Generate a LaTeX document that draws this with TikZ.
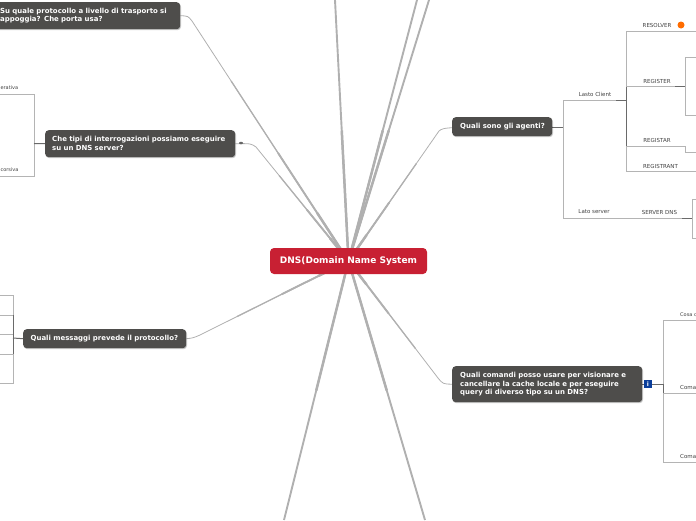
\documentclass[tikz,border=0pt]{standalone}
\usepackage{fontspec}
\setmainfont{DejaVu Sans}
\usetikzlibrary{shadows,calc,backgrounds,shapes.geometric}
\definecolor{qfill}{HTML}{4E4D4B}
\definecolor{crimson}{HTML}{C82033}
\definecolor{spoke}{HTML}{B0B0B0}
\definecolor{tree}{HTML}{B4B4B4}
\definecolor{treedark}{HTML}{6A6A6A}
\definecolor{iconblue}{HTML}{0B3E9A}
\tikzset{
  qbox/.style={draw=none,fill=qfill,rounded corners=3.5pt,anchor=north west,inner ysep=0pt,
    font=\fontsize{6.95}{8.8}\selectfont\bfseries,text=white,align=left,
    drop shadow={shadow xshift=0.8pt,shadow yshift=-1pt,fill=black,opacity=0.22}},
  rootbox/.style={fill=crimson,rounded corners=4pt,inner sep=0pt,text=white,
    minimum width=157pt,minimum height=26pt,font=\fontsize{9}{10}\selectfont\bfseries},
  lab/.style={font=\fontsize{5.5}{6}\selectfont,text=black!75,inner sep=0pt},
  edgelab/.style={font=\fontsize{5}{6}\selectfont,text=black!75,inner sep=0pt},
  wide/.style={spoke,line width=2.5pt},
  mid/.style={spoke,line width=1.9pt},
  slim/.style={spoke,line width=1.3pt},
  fine/.style={spoke,line width=0.8pt},
  tr/.style={tree,line width=1pt},
  trd/.style={treedark,line width=1pt},
}
\newcommand{\spokeTo}[3]{%
  \draw[fine] (root.center) -- (#1) #2 (#3);
  \draw[slim] (root.center) -- ($(root.center)!0.75!(#1)$);
  \draw[mid] (root.center) -- ($(root.center)!0.45!(#1)$);
  \draw[wide] (root.center) -- ($(root.center)!0.2!(#1)$);
}
\newcommand{\spokeOut}[1]{%
  \draw[mid] (root.center) -- (#1);
  \draw[wide] (root.center) -- ($(root.center)!0.5!(#1)$);
}
\begin{document}
\begin{tikzpicture}[x=1pt,y=-1pt]
\useasboundingbox (0,0) rectangle (696,520);
\coordinate (t1) at (335,0);
\coordinate (t2) at (417,0);
\coordinate (t3) at (429,0);
\coordinate (b1) at (284,520);
\coordinate (b2) at (425,520);
\coordinate (k1) at (192,21);
\coordinate (k2) at (256,147);
\coordinate (k3) at (200,335);
\coordinate (k4) at (439,131);
\coordinate (k5) at (438,378);
\coordinate (dj) at (563,127);
\coordinate (lc0) at (563,100);
\coordinate (lc1) at (616,100);
\coordinate (lcj) at (626,100);
\coordinate (ls0) at (563,218);
\coordinate (ls1) at (682,218);
\coordinate (lsj) at (692,218);
\coordinate (r0) at (626,31);
\coordinate (r1) at (696,31);
\coordinate (rg0) at (626,86);
\coordinate (rg1) at (675,86);
\coordinate (rgj) at (685,86);
\coordinate (ra0) at (626,146);
\coordinate (ra1) at (685,146);
\coordinate (ra2) at (685,152);
\coordinate (ra3) at (696,152);
\coordinate (rn0) at (626,171);
\coordinate (rn1) at (696,171);
\coordinate (rgt) at (685,57);
\coordinate (rgb) at (685,115);
\coordinate (rgte) at (696,57);
\coordinate (rgbe) at (696,115);
\coordinate (lst) at (692,199);
\coordinate (lsb) at (692,238);
\coordinate (lste) at (696,199);
\coordinate (lsbe) at (696,238);
\coordinate (ej) at (663,384);
\coordinate (e1) at (663,320);
\coordinate (e1e) at (696,320);
\coordinate (e2) at (663,393);
\coordinate (e2e) at (696,393);
\coordinate (e3) at (663,462);
\coordinate (e3e) at (696,462);
\coordinate (bj) at (34,143.5);
\coordinate (b1t) at (34,94);
\coordinate (b1e) at (0,94);
\coordinate (b2t) at (34,176);
\coordinate (b2e) at (0,176);
\coordinate (cj) at (13,338);
\coordinate (c1) at (13,295);
\coordinate (c2) at (13,315);
\coordinate (c3) at (13,334);
\coordinate (c4) at (13,354);
\coordinate (c5) at (13,383);
\coordinate (c1e) at (0,295);
\coordinate (c2e) at (0,315);
\coordinate (c3e) at (0,334);
\coordinate (c4e) at (0,354);
\coordinate (c5e) at (0,383);

\node[rootbox,anchor=center] (root) at (348.5,261) {DNS(Domain Name System};
\node[qbox,inner xsep=10pt,text width=170pt,minimum height=27pt] (qa) at (-10,2) {Su quale protocollo a livello di trasporto si\\appoggia? Che porta usa?};
\node[qbox,inner xsep=7pt,text width=176pt,minimum height=27pt] (qb) at (45,130) {Che tipi di interrogazioni possiamo eseguire\\su un DNS server?};
\node[qbox,inner xsep=7.5pt,text width=148pt,minimum height=19pt] (qc) at (23,329) {Quali messaggi prevede il protocollo?};
\node[qbox,inner xsep=8pt,text width=84pt,minimum height=19pt] (qd) at (452,117) {\mbox{Quali sono gli agenti?}};
\node[qbox,inner xsep=8pt,text width=174pt,minimum height=36pt] (qe) at (452,366) {Quali comandi posso usare per visionare e\\cancellare la cache locale e per eseguire\\query di diverso tipo su un DNS?};

\node[lab] (n1) at (595,94) {Lasto Client};
\node[lab] (n2) at (594,212) {Lato server};
\node[lab] (n3) at (657,25) {RESOLVER};
\node[lab] (n4) at (657,81) {REGISTER};
\node[lab] (n5) at (657,140) {REGISTAR};
\node[lab] (n6) at (660.5,166) {REGISTRANT};
\node[lab] (n7) at (659.5,212) {SERVER DNS};
\node[circle,fill=orange!85!red,minimum size=7pt,inner sep=0pt] (dot) at (681,25) {};
\node[fill=iconblue,minimum size=8pt,inner sep=0pt,text=white,font=\fontsize{6}{6}\selectfont\bfseries] (ico) at (648,384) {i};
\node[edgelab,anchor=west] (m1) at (680,315) {Cosa c};
\node[lab,anchor=west] (m2) at (680,387) {Coma};
\node[lab,anchor=west] (m3) at (680,456) {Coma};
\node[edgelab,anchor=west] (l1) at (0.4,88) {erativa};
\node[edgelab,anchor=west] (l2) at (0.4,170) {corsiva};
\node[ellipse,fill=black!60,inner sep=0pt,minimum width=4pt,minimum height=2.5pt] (bi) at (241,143) {};

\begin{scope}[on background layer]
\spokeOut{t1}
\spokeOut{t2}
\spokeOut{t3}
\spokeOut{b1}
\spokeOut{b2}
\spokeTo{k1}{.. controls (188,16) ..}{qa.east}
\spokeTo{k2}{.. controls (251,143.5) ..}{qb.east}
\spokeTo{k3}{.. controls (193,338) ..}{qc.east}
\spokeTo{k4}{.. controls (444,127) ..}{qd.east}
\spokeTo{k5}{.. controls (443,384) ..}{qe.west}
\draw[tr] (lc0) -- (ls0);
\draw[tr] (lc1) -- (lc0);
\draw[tr] (ls0) -- (ls1);
\draw[trd] (qd.east |- dj) -- (dj);
\draw[trd] (lc1) -- (lcj);
\draw[trd] (ls1) -- (lsj);
\draw[tr] (r1) -- (r0) -- (rn0) -- (rn1);
\draw[trd] (lcj |- rg0) -- (lcj |- ra0);
\draw[tr] (rg0) -- (rg1);
\draw[trd] (rg1) -- (rgj);
\draw[tr] (rgte) -- (rgt) -- (rgb) -- (rgbe);
\draw[tr] (ra0) -- (ra1) -- (ra2) -- (ra3);
\draw[tr] (lste) -- (lst) -- (lsb) -- (lsbe);
\draw[tr] (e1e) -- (e1) -- (e3) -- (e3e);
\draw[trd] (qe.east |- ej) -- (ej) -- (e2);
\draw[tr] (e2) -- (e2e);
\draw[tr] (b1e) -- (b1t) -- (b2t) -- (b2e);
\draw[trd] (qb.west) -- (bj);
\draw[tr] (c1e) -- (c1) -- (c5) -- (c5e);
\draw[tr] (c2) -- (c2e);
\draw[tr] (c3) -- (c3e);
\draw[tr] (c4) -- (c4e);
\draw[trd] (c2) -- (c4);
\draw[trd] (qc.west) -- (cj);
\end{scope}
\end{tikzpicture}
\end{document}
